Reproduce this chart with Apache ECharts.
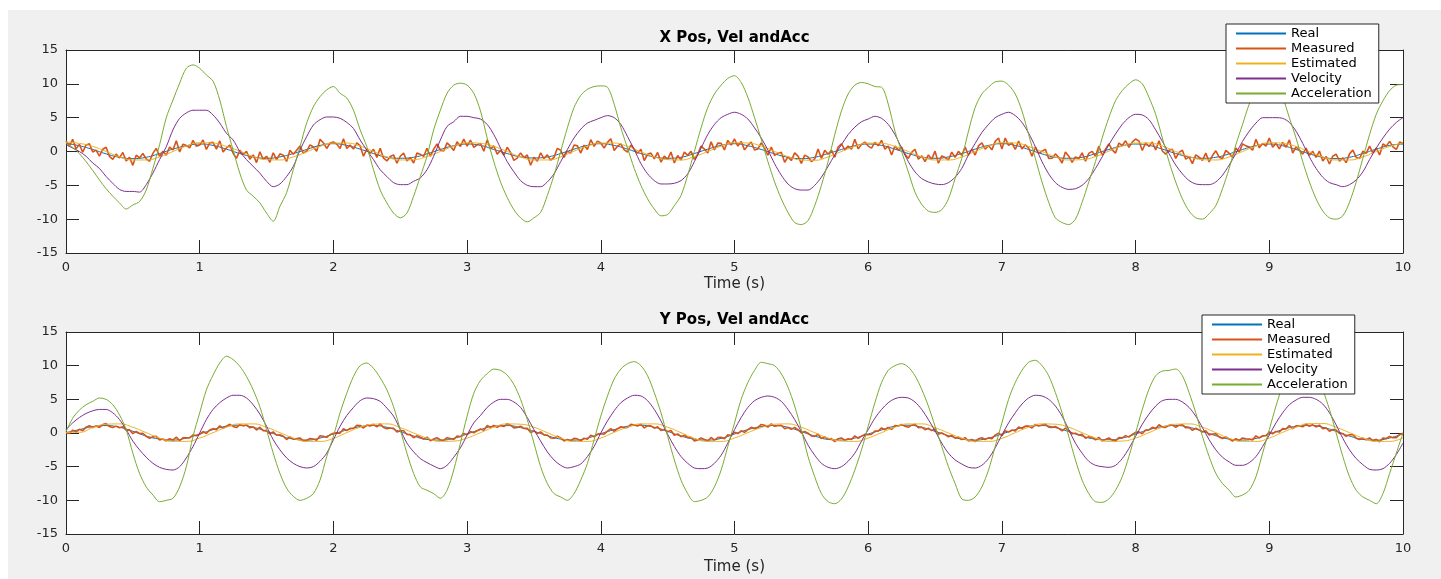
<!DOCTYPE html>
<html>
<head>
<meta charset="utf-8">
<title>X / Y Pos, Vel and Acc</title>
<script src="https://cdn.jsdelivr.net/npm/echarts@6/dist/echarts.min.js"></script>
<style>
  html, body { margin: 0; padding: 0; background: #fff; }
  #chart { width: 1441px; height: 579px; }
</style>
</head>
<body>
<div id="chart"></div>
<script>
//////////////////////////////////////////// data ////////////////////////////////////////////
var seriesNames = ['Real', 'Measured', 'Estimated', 'Velocity', 'Acceleration'];
var seriesColors = ['#0072BD', '#D95319', '#EDB120', '#7E2F8E', '#77AC30'];
var xTicks = [0, 1, 2, 3, 4, 5, 6, 7, 8, 9, 10];
var yTicks = [-15, -10, -5, 0, 5, 10, 15];

// sample spacing (s) of each recorded series
var stepPos = 0.1, stepMeas = 0.025, stepVA = 0.05;

// ---- X ----
var realX = [
  1.2, 0.85, 0.3, -0.35, -0.85, -1.05, -0.85, -0.3, 0.35, 0.85,
  1.1, 0.9, 0.35, -0.3, -0.8, -1.0, -0.8, -0.3, 0.3, 0.9,
  1.15, 0.9, 0.35, -0.3, -0.85, -1.0, -0.85, -0.35, 0.3, 0.85,
  1.1, 0.9, 0.3, -0.3, -0.8, -0.95, -0.8, -0.3, 0.35, 0.9,
  1.15, 0.9, 0.35, -0.3, -0.8, -1.0, -0.85, -0.3, 0.35, 0.9,
  1.15, 0.85, 0.3, -0.35, -0.85, -1.05, -0.85, -0.3, 0.3, 0.85,
  1.1, 0.9, 0.35, -0.3, -0.8, -1.0, -0.8, -0.3, 0.35, 0.9,
  1.15, 0.9, 0.3, -0.35, -0.85, -1.0, -0.85, -0.3, 0.3, 0.85,
  1.1, 0.9, 0.35, -0.3, -0.8, -1.0, -0.85, -0.35, 0.3, 0.85,
  1.1, 0.85, 0.3, -0.35, -0.85, -1.05, -0.85, -0.3, 0.35, 0.9,
  1.1
];
var measX = [
  1.55,0.79,1.8,0.39,1.05,-0.11,0.97,1.13,-0.08,0.21,-0.7,0.34,0.63,-0.73,-1.17,-0.39,-0.95,-0.14,-1.4,-0.84,-2.05,-0.54,-0.95,-0.29,-1.1,-1.44,-0.27,0.47,-0.72,0.04,-0.55,0.66,0.22,1.58,-0.08,1.09,0.9,0.54,1.65,0.79,
  0.95,1.69,0.3,1.29,1.35,0.34,1.57,-0.07,0.52,0.96,-0.25,-1.01,0.18,-0.43,0.03,-1.14,-0.5,-1.64,-0.05,-1.14,-0.7,-1.59,-0.2,-1.19,-0.35,-0.54,-1.47,0.17,-0.42,0.19,0.8,-0.24,0.07,0.98,0.67,0.04,1.8,1.29,0.45,1.24,
  1.4,1.09,0.45,1.89,0.45,0.94,0.37,1.28,0.82,-0.69,0.35,-0.26,0.33,-0.88,0.48,-0.99,-1.4,-0.74,-0.5,-1.74,-0.7,-0.24,-1.4,-0.89,-1.7,-0.24,-0.42,-0.73,0.48,-0.71,0.35,1.11,0.22,0.08,1.27,0.79,0.15,1.44,0.75,1.84,
  0.8,1.69,0.6,0.99,1.2,0.04,1.72,0.38,0.82,-0.39,0.2,-0.56,0.63,-0.13,-1.32,-0.99,-0.2,-0.89,-0.5,-2.04,-0.85,-1.44,-0.2,-1.04,-0.5,-1.29,-0.87,0.47,0.18,-0.86,0.05,-0.24,0.97,0.83,-0.23,0.94,0.3,1.74,0.75,1.54,
  1.25,0.49,1.35,1.89,0.15,0.79,1.12,0.23,-0.08,0.96,0.35,-0.26,0.33,-1.33,-0.42,-0.24,-1.1,-0.14,-1.55,-0.69,-1.15,-0.09,-1.7,-0.59,-1.25,-0.09,-0.57,0.02,-1.17,-0.41,0.8,0.36,-0.23,1.43,0.22,1.24,1.2,0.24,1.65,0.94,
  1.85,0.79,1.5,0.24,0.9,1.39,0.22,0.38,1.27,0.51,-0.55,0.64,-0.57,-0.28,-0.12,-1.59,-0.8,-1.34,-0.2,-0.69,-1.75,-0.54,-0.8,-1.49,-1.1,0.36,-1.02,0.17,-0.42,0.19,-0.85,0.66,1.12,0.23,0.82,0.34,1.8,0.39,1.05,1.39,
  0.8,0.49,1.35,0.84,1.65,0.34,0.82,-0.52,0.82,0.21,0.65,-0.41,-1.02,-0.13,0.33,-1.14,-0.65,-1.49,-0.5,-1.14,0.05,-1.74,-0.65,-0.89,-1.25,-0.09,-0.87,0.02,-0.57,0.64,-0.55,0.36,-0.53,0.83,1.27,0.34,0.9,0.24,1.5,1.99,
  0.35,1.99,0.9,1.29,0.3,1.54,0.37,0.98,0.52,-0.69,0.65,-0.26,0.03,0.32,-1.02,-0.99,-0.35,-0.89,-1.7,-0.09,-0.7,-1.59,-0.8,-1.04,-0.2,-1.44,-0.27,0.02,-0.72,0.79,-0.55,0.36,1.12,0.23,-0.23,1.24,0.9,1.59,0.6,1.39,
  1.85,1.54,0.15,1.29,0.75,1.39,0.22,1.58,0.07,-0.39,0.2,0.34,-1.02,-0.13,0.18,-1.14,-0.8,-1.79,-0.5,-0.84,-1.3,-0.24,-1.55,-0.59,0.1,-0.84,-1.02,0.17,-0.27,-0.86,0.5,-0.09,1.12,0.83,0.67,0.19,1.8,0.54,1.2,0.79,
  2.0,0.64,1.2,0.39,1.35,0.64,1.72,-0.22,0.67,0.21,-0.4,0.49,-0.57,0.02,-0.87,0.06,-1.4,-0.74,-1.85,-0.69,-0.4,-1.44,-0.95,-1.64,-0.35,0.21,-0.87,-1.03,0.03,-0.26,0.8,-0.24,0.52,-0.52,1.12,0.79,1.5,0.69,0.3,1.39,
  1.2
];
var estX = [
  1.4, 1.2, 0.75, 0.0, -0.8, -1.25, -1.25, -0.8, 0.0, 0.8,
  1.3, 1.25, 0.75, 0.05, -0.75, -1.2, -1.25, -0.8, -0.05, 0.75,
  1.25, 1.25, 0.8, 0.0, -0.8, -1.25, -1.2, -0.75, 0.0, 0.8,
  1.3, 1.2, 0.75, 0.0, -0.8, -1.25, -1.25, -0.8, 0.05, 0.8,
  1.25, 1.25, 0.75, -0.05, -0.8, -1.2, -1.25, -0.75, 0.0, 0.8,
  1.3, 1.25, 0.8, 0.0, -0.75, -1.25, -1.3, -0.8, 0.0, 0.75,
  1.25, 1.2, 0.75, 0.0, -0.8, -1.25, -1.25, -0.8, 0.0, 0.8,
  1.3, 1.25, 0.75, 0.0, -0.8, -1.25, -1.2, -0.75, 0.05, 0.8,
  1.25, 1.25, 0.8, 0.0, -0.75, -1.2, -1.25, -0.8, 0.0, 0.8,
  1.3, 1.2, 0.75, -0.05, -0.8, -1.25, -1.25, -0.8, 0.0, 0.75,
  1.25
];
var velX = [
  1.0, 0.5, 0.0, -0.7, -1.7, -2.5, -3.7, -4.7, -5.6, -5.9, -5.9, -6.0, -4.9, -3.2, -1.2, 0.7, 3.2, 4.9, 5.7, 6.1,
  6.1, 6.1, 5.4, 4.2, 2.7, 1.7, 0.0, -1.2, -2.2, -3.2, -4.4, -5.2, -4.8, -3.7, -2.2, 0.2, 2.2, 3.9, 4.7, 5.1,
  5.1, 4.9, 4.3, 3.4, 1.7, 0.2, -1.2, -2.7, -3.7, -4.6, -4.9, -4.9, -4.4, -3.9, -2.7, -0.7, 1.7, 3.7, 4.4, 5.2,
  5.2, 5.0, 4.8, 4.0, 2.5, 0.5, -1.5, -3.0, -4.3, -5.0, -5.2, -5.2, -4.5, -3.3, -1.5, 0.3, 2.0, 3.3, 4.2, 4.6,
  5.0, 5.3, 5.0, 4.0, 2.2, 0.3, -1.8, -3.3, -4.3, -4.8, -4.8, -4.7, -4.3, -3.3, -1.5, 0.5, 2.5, 4.0, 5.0, 5.5,
  5.8, 5.5, 4.8, 3.5, 2.0, 0.2, -1.8, -3.5, -4.8, -5.5, -5.7, -5.7, -5.0, -3.8, -2.2, -0.5, 1.0, 2.5, 3.6, 4.4,
  4.8, 5.2, 4.9, 4.0, 2.5, 0.5, -1.5, -3.0, -4.0, -4.5, -4.8, -4.9, -4.6, -3.8, -2.5, -0.5, 1.2, 2.8, 4.0, 5.0,
  5.5, 5.8, 5.3, 4.3, 2.7, 0.7, -1.5, -3.3, -4.6, -5.3, -5.6, -5.5, -5.0, -4.0, -2.5, -0.8, 1.0, 2.6, 4.0, 5.0,
  5.5, 5.4, 4.7, 3.2, 1.5, -0.3, -2.0, -3.3, -4.3, -4.8, -4.9, -4.9, -4.5, -3.5, -2.0, -0.3, 1.5, 3.0, 4.2, 5.0,
  5.0, 5.0, 4.9, 4.3, 3.0, 1.2, -0.8, -2.5, -3.8, -4.6, -4.9, -5.2, -4.9, -4.2, -3.0, -1.2, 0.5, 2.0, 3.3, 4.3,
  5.0
];
var accX = [
  1.2, 0.6, -0.3, -1.5, -2.8, -4.2, -5.5, -6.6, -7.6, -8.5, -7.9, -7.4, -5.7, -2.5, 1.0, 5.0, 7.6, 10.1, 12.3, 12.8,
  12.3, 11.3, 10.4, 7.6, 3.7, 0.2, -3.2, -5.7, -6.6, -7.6, -9.1, -10.3, -8.1, -6.1, -2.7, 0.7, 4.2, 6.6, 8.1, 9.1,
  9.6, 8.6, 7.9, 6.1, 3.2, 0.7, -2.7, -5.7, -7.6, -9.1, -9.8, -9.1, -6.6, -3.7, -0.7, 3.2, 6.1, 8.6, 9.8, 10.1,
  9.8, 8.6, 6.0, 2.0, -1.5, -4.5, -6.8, -8.6, -9.8, -10.4, -9.8, -9.0, -6.5, -3.5, 0.0, 3.5, 6.5, 8.3, 9.2, 9.6,
  9.7, 9.5, 7.0, 3.5, 0.5, -2.5, -5.0, -7.0, -8.5, -9.5, -9.3, -8.0, -6.5, -3.5, 0.0, 3.5, 6.5, 8.5, 9.8, 10.8,
  11.2, 10.2, 8.0, 5.0, 1.8, -1.5, -4.5, -7.0, -9.0, -10.5, -10.8, -10.2, -8.0, -5.0, -1.5, 2.5, 6.0, 8.5, 9.8, 10.2,
  10.0, 9.6, 9.5, 7.0, 3.0, 0.0, -3.0, -6.0, -7.8, -8.8, -9.0, -8.6, -7.0, -4.0, -1.0, 3.0, 6.5, 8.5, 9.5, 10.3,
  10.4, 9.8, 8.5, 6.0, 2.5, -1.0, -4.5, -7.5, -9.8, -10.5, -10.8, -10.0, -7.5, -4.5, -1.5, 2.0, 5.0, 7.5, 9.0, 10.0,
  10.6, 10.0, 8.0, 5.5, 2.0, -1.5, -4.5, -7.0, -8.8, -9.8, -10.0, -9.2, -8.0, -5.5, -2.5, 1.0, 4.0, 7.0, 9.0, 10.0,
  10.2, 9.8, 8.0, 5.0, 2.0, -1.5, -4.5, -7.0, -8.8, -9.8, -10.0, -9.5, -7.5, -4.5, -1.0, 2.5, 5.5, 7.5, 9.0, 9.8,
  9.9
];

// ---- Y ----
var realY = [
  0.05, 0.5, 0.95, 1.1, 0.85, 0.25, -0.45, -0.9, -1.05, -0.75,
  -0.15, 0.5, 1.0, 1.15, 0.85, 0.25, -0.4, -0.9, -1.05, -0.75,
  -0.15, 0.45, 0.95, 1.1, 0.85, 0.2, -0.45, -0.95, -1.05, -0.8,
  -0.15, 0.5, 1.0, 1.1, 0.8, 0.25, -0.4, -0.9, -1.05, -0.75,
  -0.1, 0.5, 1.0, 1.15, 0.85, 0.25, -0.45, -0.9, -1.05, -0.8,
  -0.15, 0.5, 0.95, 1.1, 0.85, 0.2, -0.45, -0.95, -1.05, -0.75,
  -0.15, 0.45, 1.0, 1.15, 0.85, 0.25, -0.4, -0.9, -1.05, -0.75,
  -0.15, 0.5, 1.0, 1.1, 0.8, 0.2, -0.45, -0.9, -1.0, -0.75,
  -0.15, 0.5, 0.95, 1.1, 0.85, 0.25, -0.4, -0.9, -1.05, -0.8,
  -0.15, 0.5, 1.0, 1.15, 0.85, 0.25, -0.45, -0.95, -1.05, -0.75,
  -0.1
];
var measY = [
  0.0,-0.08,0.43,0.14,0.55,0.34,0.87,1.08,0.82,1.04,0.83,1.25,1.39,0.96,0.8,1.02,0.77,0.94,0.41,0.46,-0.1,0.23,-0.08,-0.04,-0.5,-0.79,-0.57,-0.48,-1.02,-0.89,-1.18,-0.85,-1.04,-0.61,-1.15,-0.72,-0.72,-0.74,-0.26,-0.41,
  -0.2,0.22,-0.07,0.44,0.65,0.49,1.07,0.68,1.02,1.29,0.98,0.8,1.24,1.06,1.2,0.77,0.92,0.44,0.86,0.36,0.35,-0.12,0.17,-0.34,-0.25,-0.49,-0.97,-0.58,-0.92,-0.84,-0.73,-1.15,-1.09,-0.81,-0.9,-1.07,-0.42,-0.49,-0.66,-0.26,
  -0.05,0.02,-0.02,0.64,0.35,0.69,0.67,1.13,1.12,0.74,1.18,1.05,1.29,0.91,1.35,0.82,0.62,0.74,0.71,0.16,0.35,0.33,-0.23,-0.24,-0.7,-0.39,-0.62,-0.88,-0.62,-1.14,-0.88,-0.7,-1.04,-1.11,-0.7,-0.82,-0.97,-0.44,-0.56,-0.06,
  -0.25,0.22,0.03,0.34,0.6,0.39,1.12,0.83,1.12,0.84,1.13,0.95,1.39,1.16,0.75,0.82,1.02,0.69,0.71,0.06,0.3,-0.07,0.17,-0.29,-0.3,-0.74,-0.77,-0.48,-0.72,-1.19,-0.98,-1.15,-0.79,-0.86,-1.2,-0.77,-0.92,-0.34,-0.56,-0.16,
  -0.1,-0.18,0.28,0.64,0.25,0.64,0.92,0.78,0.82,1.29,1.18,1.05,1.29,0.76,1.05,1.07,0.72,0.94,0.36,0.51,0.2,0.38,-0.33,-0.14,-0.55,-0.34,-0.67,-0.63,-1.17,-1.04,-0.73,-0.95,-1.19,-0.66,-1.05,-0.67,-0.62,-0.84,-0.26,-0.36,
  0.1,-0.08,0.33,0.09,0.5,0.84,0.62,0.83,1.27,1.14,0.88,1.35,0.99,1.11,1.15,0.62,0.82,0.54,0.81,0.51,0.0,0.23,-0.03,-0.44,-0.5,-0.19,-0.82,-0.58,-0.92,-0.84,-1.28,-0.85,-0.74,-1.06,-0.85,-0.97,-0.42,-0.79,-0.46,-0.21,
  -0.25,-0.18,0.28,0.29,0.75,0.49,0.82,0.53,1.12,1.04,1.28,1.0,0.84,1.16,1.3,0.77,0.87,0.49,0.71,0.36,0.6,-0.17,0.02,-0.24,-0.55,-0.34,-0.77,-0.63,-0.97,-0.69,-1.18,-0.95,-1.29,-0.86,-0.7,-0.97,-0.72,-0.84,-0.31,-0.01,
  -0.4,0.32,0.13,0.44,0.3,0.89,0.67,1.03,1.02,0.74,1.28,1.05,1.19,1.31,0.85,0.82,0.97,0.69,0.31,0.71,0.35,-0.12,-0.03,-0.29,-0.2,-0.79,-0.57,-0.63,-1.02,-0.64,-1.18,-0.95,-0.74,-1.06,-1.2,-0.67,-0.72,-0.39,-0.61,-0.21,
  0.1,0.17,-0.12,0.44,0.45,0.84,0.62,1.23,0.87,0.84,1.13,1.25,0.84,1.16,1.25,0.77,0.82,0.39,0.71,0.46,0.15,0.33,-0.28,-0.14,-0.1,-0.59,-0.82,-0.58,-0.87,-1.19,-0.83,-1.1,-0.74,-0.86,-0.9,-1.02,-0.42,-0.74,-0.41,-0.41,
  0.15,-0.13,0.23,0.14,0.65,0.59,1.12,0.63,1.07,1.04,0.93,1.3,0.99,1.21,0.9,1.17,0.62,0.74,0.26,0.51,0.45,-0.07,-0.08,-0.49,-0.25,-0.24,-0.77,-0.98,-0.77,-0.99,-0.73,-1.15,-0.94,-1.31,-0.75,-0.82,-0.52,-0.69,-0.71,-0.21,
  -0.05
];
var estY = [
  0.1, 0.1, 0.8, 1.3, 1.35, 0.85, 0.05, -0.75, -1.25, -1.25,
  -0.75, 0.05, 0.85, 1.35, 1.35, 0.85, 0.05, -0.75, -1.25, -1.25,
  -0.8, 0.05, 0.85, 1.3, 1.35, 0.8, 0.0, -0.75, -1.25, -1.2,
  -0.75, 0.05, 0.85, 1.35, 1.3, 0.85, 0.05, -0.75, -1.25, -1.25,
  -0.75, 0.1, 0.85, 1.35, 1.35, 0.85, 0.05, -0.8, -1.25, -1.25,
  -0.75, 0.05, 0.8, 1.3, 1.35, 0.85, 0.05, -0.75, -1.2, -1.25,
  -0.75, 0.05, 0.85, 1.35, 1.35, 0.8, 0.0, -0.75, -1.25, -1.25,
  -0.8, 0.05, 0.85, 1.35, 1.3, 0.85, 0.05, -0.75, -1.25, -1.2,
  -0.75, 0.05, 0.85, 1.3, 1.35, 0.85, 0.05, -0.8, -1.25, -1.25,
  -0.75, 0.1, 0.85, 1.4, 1.4, 0.85, 0.05, -0.75, -1.25, -1.25,
  -0.7
];
var velY = [
  0.5, 1.5, 2.3, 2.9, 3.3, 3.5, 3.5, 3.0, 2.0, 0.5, -1.2, -2.5, -3.6, -4.5, -5.1, -5.4, -5.5, -5.0, -3.7, -2.0,
  0.0, 2.0, 3.5, 4.5, 5.2, 5.6, 5.6, 5.2, 4.2, 2.8, 1.0, -1.0, -2.5, -3.7, -4.5, -5.0, -5.2, -5.0, -4.2, -3.0,
  -1.0, 1.0, 2.6, 3.8, 4.8, 5.2, 5.1, 4.7, 3.7, 2.5, 0.5, -1.5, -2.8, -3.8, -4.4, -4.9, -5.3, -4.8, -3.6, -2.2,
  -0.3, 1.5, 2.6, 3.8, 4.6, 5.0, 5.0, 4.6, 3.8, 2.3, 0.5, -1.2, -2.8, -4.0, -4.8, -5.2, -5.0, -4.6, -3.5, -2.0,
  0.0, 1.8, 3.3, 4.5, 5.2, 5.6, 5.5, 4.8, 3.5, 1.8, -0.2, -2.0, -3.5, -4.5, -5.2, -5.3, -5.2, -4.5, -3.3, -1.5,
  0.5, 2.3, 3.8, 4.8, 5.3, 5.5, 5.3, 4.7, 3.5, 2.0, 0.2, -1.8, -3.3, -4.5, -5.1, -5.3, -5.0, -4.2, -3.0, -1.2,
  0.5, 2.2, 3.5, 4.5, 5.1, 5.3, 5.2, 4.6, 3.5, 2.0, 0.3, -1.5, -3.0, -4.0, -4.6, -5.1, -5.2, -4.8, -3.8, -2.2,
  -0.3, 1.5, 3.0, 4.3, 5.2, 5.6, 5.5, 5.0, 4.0, 2.5, 0.5, -1.5, -3.0, -4.2, -4.8, -5.0, -5.1, -4.8, -3.8, -2.3,
  -0.5, 1.3, 2.8, 4.0, 4.8, 5.0, 5.0, 4.6, 3.8, 2.5, 0.8, -1.0, -2.5, -3.6, -4.3, -4.8, -4.8, -4.4, -3.5, -2.0,
  -0.3, 1.5, 3.0, 4.2, 4.9, 5.3, 5.3, 5.0, 4.3, 3.0, 1.2, -0.8, -2.5, -3.8, -4.7, -5.4, -5.5, -5.3, -4.5, -3.2,
  -1.5
];
var accY = [
  0.2, 2.2, 3.4, 4.2, 4.7, 5.2, 5.0, 4.2, 2.7, 0.5, -3.0, -6.0, -8.0, -9.2, -10.2, -10.0, -9.7, -8.0, -5.0, -0.5,
  3.0, 6.4, 8.6, 10.4, 11.4, 10.9, 9.9, 8.4, 6.4, 3.9, 0.5, -3.0, -6.0, -8.2, -9.4, -10.0, -9.7, -9.0, -7.0, -3.5,
  -0.5, 3.0, 5.9, 8.4, 10.0, 10.4, 9.6, 8.2, 6.4, 3.9, 0.5, -3.0, -6.0, -8.0, -8.5, -9.0, -9.7, -8.5, -5.5, -1.5,
  2.5, 5.9, 7.8, 8.8, 9.5, 9.3, 8.6, 7.2, 5.0, 2.0, -1.5, -5.0, -7.5, -9.0, -9.5, -10.0, -9.0, -7.0, -4.5, -1.0,
  2.5, 5.5, 8.0, 9.5, 10.3, 10.6, 10.0, 8.5, 6.0, 3.0, -0.5, -4.0, -7.0, -9.0, -10.2, -10.0, -9.5, -8.0, -5.5, -2.0,
  1.5, 5.0, 7.5, 9.3, 10.5, 10.3, 10.0, 8.8, 6.8, 4.0, 0.5, -3.5, -6.5, -9.0, -10.2, -10.5, -9.8, -8.0, -5.5, -2.5,
  1.0, 4.5, 7.5, 9.3, 10.0, 10.3, 9.8, 8.5, 6.5, 4.0, 1.0, -2.0, -5.0, -7.5, -9.8, -10.0, -9.5, -8.0, -5.5, -2.0,
  1.5, 5.0, 7.5, 9.3, 10.5, 10.8, 10.0, 8.5, 6.0, 3.0, -0.5, -4.0, -7.0, -9.0, -10.2, -10.3, -9.8, -8.5, -6.5, -3.5,
  0.0, 3.5, 6.5, 8.5, 9.2, 9.3, 9.5, 8.5, 6.0, 3.0, -0.5, -3.5, -6.0, -7.5, -8.5, -9.5, -9.2, -8.5, -6.5, -3.0,
  0.5, 4.0, 7.0, 9.0, 10.3, 10.8, 10.5, 9.5, 6.5, 3.5, 0.0, -3.5, -6.5, -8.5, -9.5, -10.0, -10.5, -9.0, -6.0, -3.0,
  0.0
];

//////////////////////////////////////////// chart ////////////////////////////////////////////
var FONT = '"DejaVu Sans", "Liberation Sans", sans-serif';
var AXIS = '#262626';

function pairs(vals, step) {
  return vals.map(function (v, i) { return [Math.round(i * step * 1000) / 1000, v]; });
}

function plotSeries(gi, real, meas, est, vel, acc) {
  // [values, spacing, smoothing, line width]
  var sets = [[real, stepPos, 0.5, 1], [meas, stepMeas, false, 1.6], [est, stepPos, 0.5, 1], [vel, stepVA, 0.3, 1], [acc, stepVA, 0.3, 1]];
  return sets.map(function (s, k) {
    return {
      name: seriesNames[k],
      type: 'line',
      xAxisIndex: gi * 2,
      yAxisIndex: gi * 2,
      data: pairs(s[0], s[1]),
      smooth: s[2],
      symbol: 'none',
      showSymbol: false,
      lineStyle: { color: seriesColors[k], width: s[3] },
      itemStyle: { color: seriesColors[k] },
      silent: true
    };
  });
}

function xAxes(gi) {
  var base = {
    type: 'value', gridIndex: gi,
    min: xTicks[0], max: xTicks[xTicks.length - 1], interval: 1,
    axisLine: { show: true, onZero: false, lineStyle: { color: AXIS, width: 1 } },
    axisTick: { show: true, inside: true, length: 13, lineStyle: { color: AXIS } },
    splitLine: { show: false }
  };
  var bottom = echarts.util.merge({
    position: 'bottom',
    name: 'Time (s)', nameLocation: 'middle', nameGap: gi ? 26 : 24,
    nameTextStyle: { fontFamily: FONT, fontSize: 15, color: AXIS },
    axisLabel: { show: true, margin: 8, fontFamily: FONT, fontSize: 13, color: AXIS }
  }, base, true);
  var top = echarts.util.merge({ position: 'top', axisLabel: { show: false } }, base, true);
  return [bottom, top];
}

function yAxes(gi) {
  var base = {
    type: 'value', gridIndex: gi,
    min: yTicks[0], max: yTicks[yTicks.length - 1], interval: 5,
    axisLine: { show: true, onZero: false, lineStyle: { color: AXIS, width: 1 } },
    axisTick: { show: true, inside: true, length: 13, lineStyle: { color: AXIS } },
    splitLine: { show: false }
  };
  var left = echarts.util.merge({
    position: 'left',
    axisLabel: { show: true, margin: 8, fontFamily: FONT, fontSize: 13, color: AXIS }
  }, base, true);
  var right = echarts.util.merge({ position: 'right', axisLabel: { show: false } }, base, true);
  return [left, right];
}

function legendAt(left, top) {
  return {
    data: seriesNames, orient: 'vertical', left: left, top: top,
    icon: 'rect', itemWidth: 50, itemHeight: 2, itemGap: 2,
    padding: [3, 7, 3, 10],
    backgroundColor: '#fff', borderColor: AXIS, borderWidth: 1, borderRadius: 0,
    selectedMode: false,
    textStyle: { fontFamily: FONT, fontSize: 13, color: '#000' }
  };
}

var option = {
  animation: false,
  backgroundColor: '#f0f0f0',
  graphic: [
    { type: 'rect', shape: { x: 0, y: 0, width: 1441, height: 10 }, style: { fill: '#fff' }, silent: true },
    { type: 'rect', shape: { x: 0, y: 0, width: 8, height: 579 }, style: { fill: '#fff' }, silent: true },
    { type: 'text', x: 734.5, y: 38, silent: true,
      style: { text: 'X Pos, Vel andAcc', font: 'bold 15px ' + FONT, fill: '#000', align: 'center', verticalAlign: 'middle' } },
    { type: 'text', x: 734.5, y: 320, silent: true,
      style: { text: 'Y Pos, Vel andAcc', font: 'bold 15px ' + FONT, fill: '#000', align: 'center', verticalAlign: 'middle' } }
  ],
  grid: [
    { left: 66, top: 50, width: 1337, height: 203, show: true, backgroundColor: '#fff', borderWidth: 0 },
    { left: 66, top: 332, width: 1337, height: 202, show: true, backgroundColor: '#fff', borderWidth: 0 }
  ],
  xAxis: xAxes(0).concat(xAxes(1)),
  yAxis: yAxes(0).concat(yAxes(1)),
  legend: [legendAt(1226, 24), legendAt(1202, 315)],
  series: plotSeries(0, realX, measX, estX, velX, accX).concat(plotSeries(1, realY, measY, estY, velY, accY))
};

var chart = echarts.init(document.getElementById('chart'));
chart.setOption(option);
</script>
</body>
</html>
